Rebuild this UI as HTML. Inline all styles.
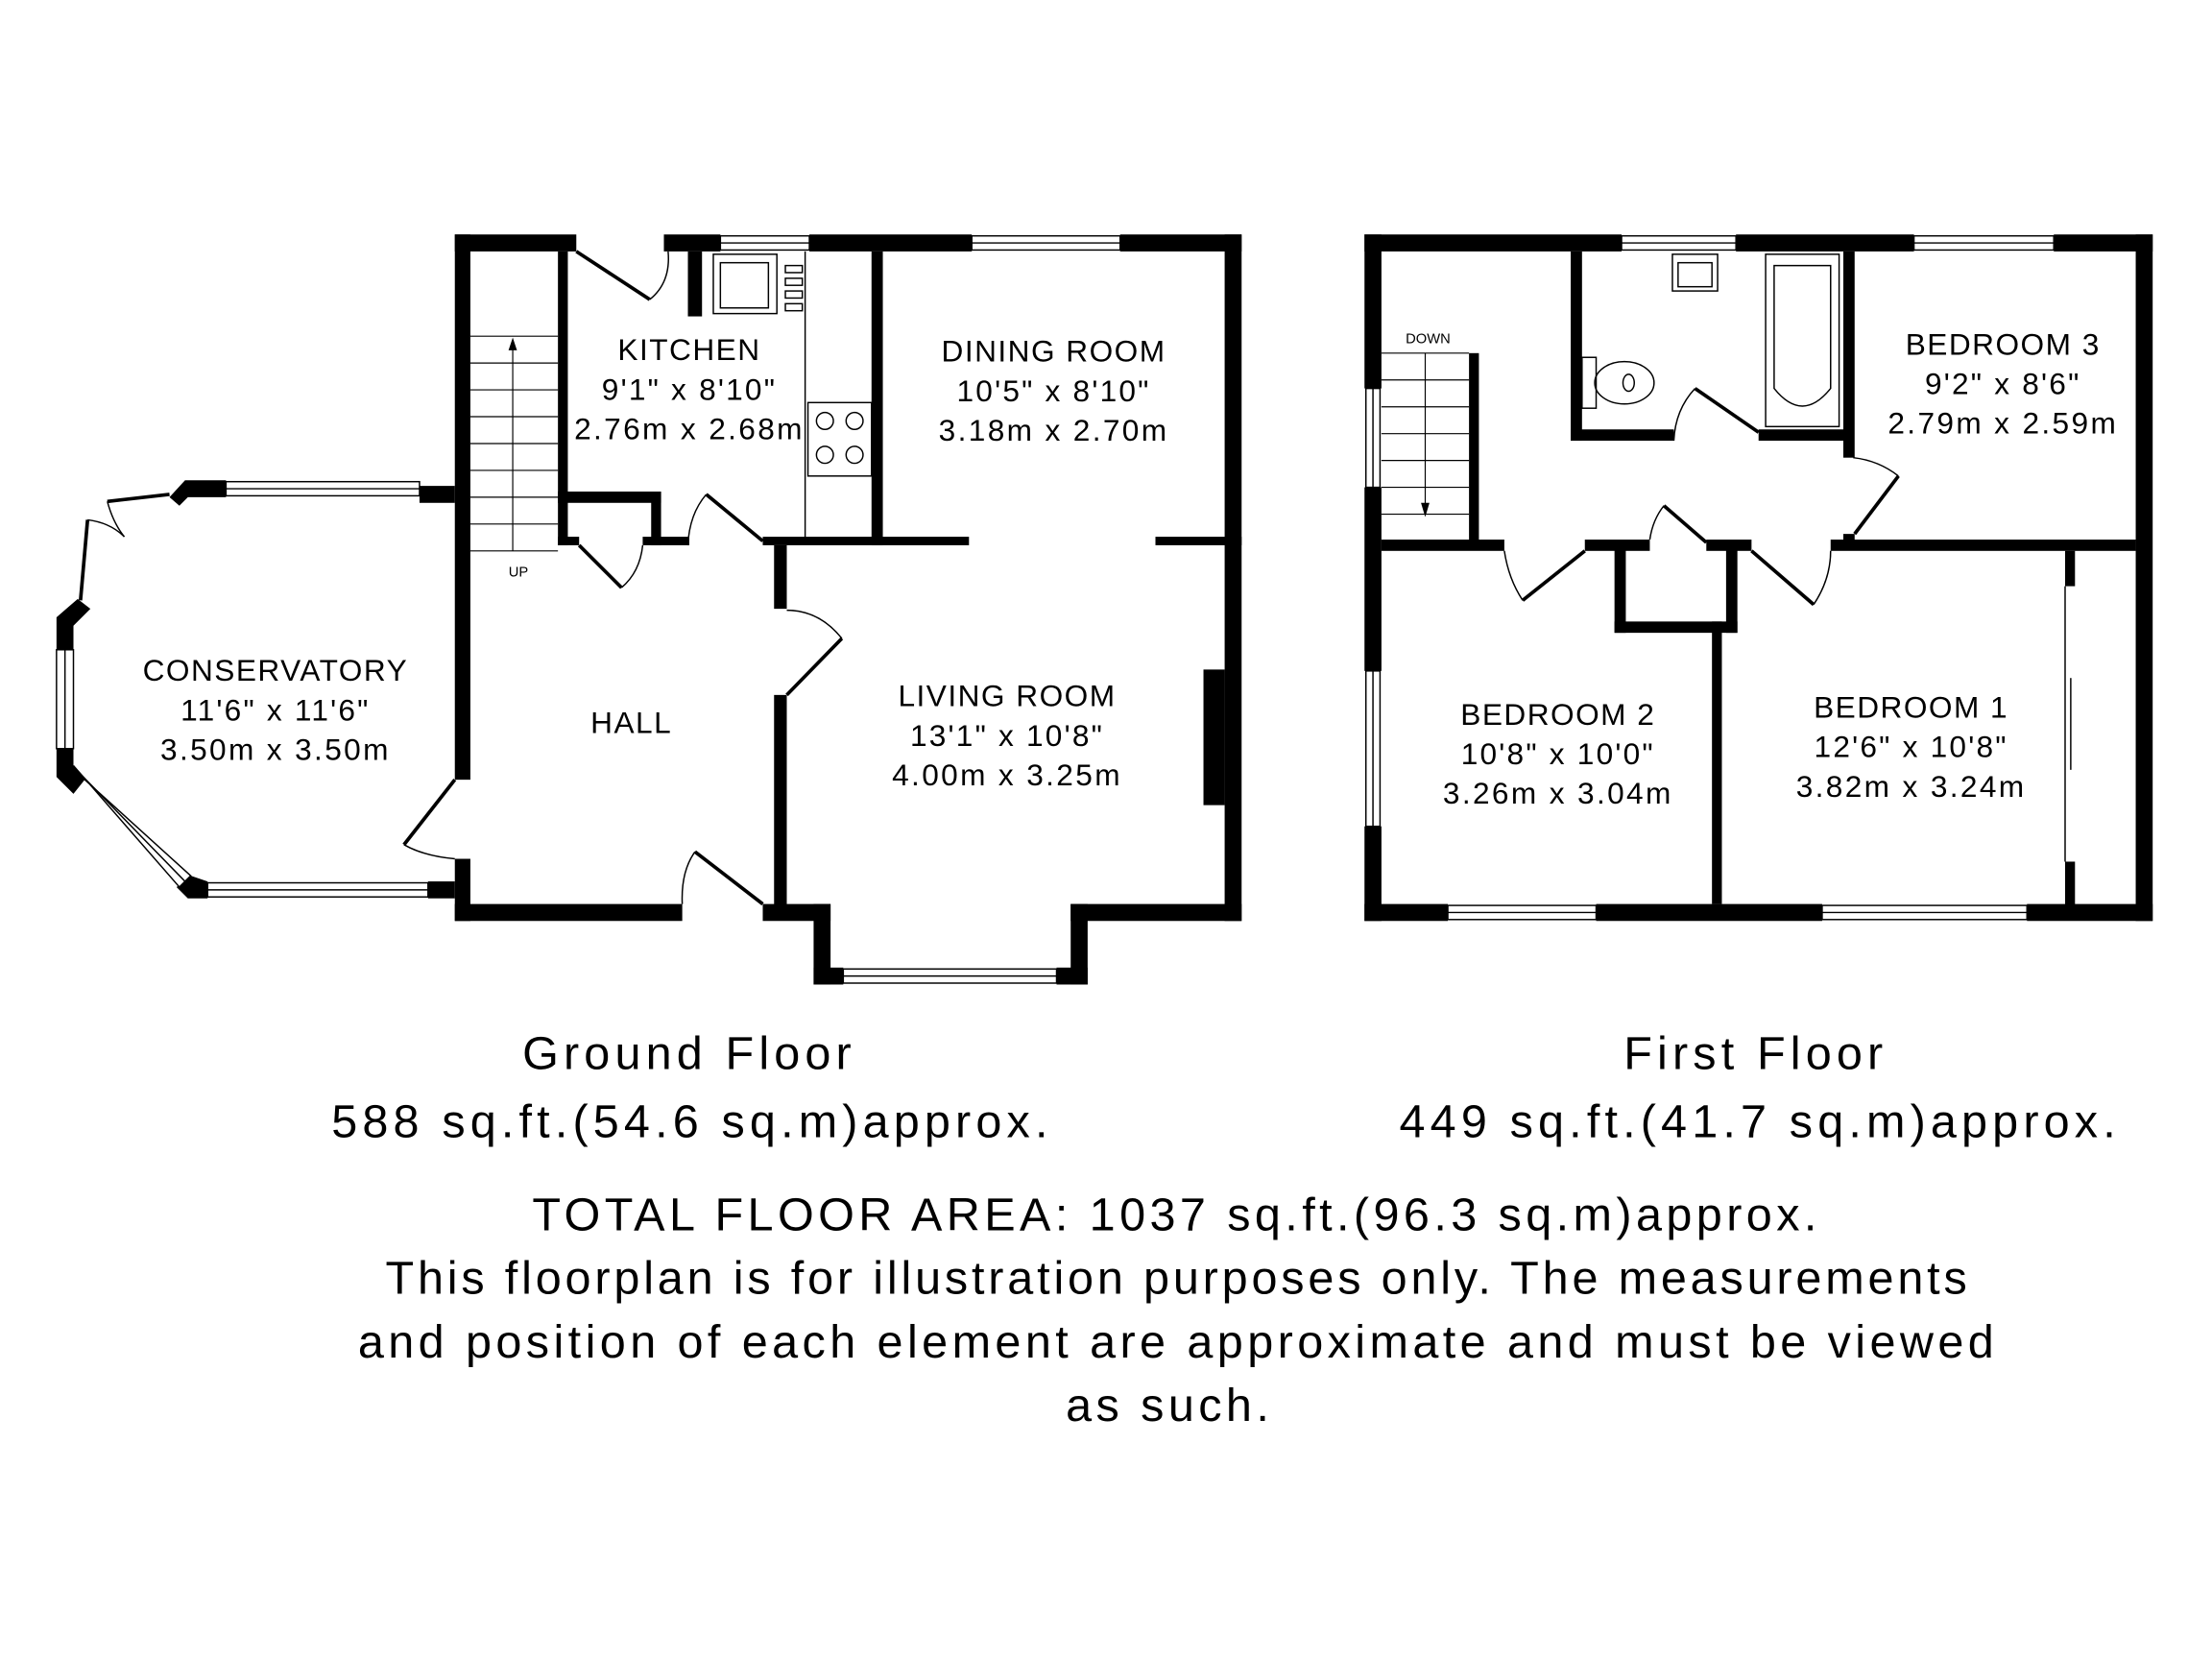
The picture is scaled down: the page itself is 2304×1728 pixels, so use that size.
<!DOCTYPE html>
<html><head><meta charset="utf-8"><style>
html,body{margin:0;padding:0;background:#fff;}
svg{display:block;}
text{font-family:"Liberation Sans",sans-serif;fill:#000;}
</style></head><body>
<svg width="2304" height="1728" viewBox="0 0 1566 1174.5" preserveAspectRatio="none" xmlns="http://www.w3.org/2000/svg">
<rect width="1566" height="1175" fill="#fff"/>
<g fill="#000">
<rect x="322" y="166" width="86" height="12"/>
<rect x="470" y="166" width="40" height="12"/>
<rect x="573" y="166" width="115" height="12"/>
<rect x="793" y="166" width="86" height="12"/>
<rect x="867" y="166" width="12" height="486"/>
<rect x="322" y="166" width="11" height="386"/>
<rect x="322" y="608" width="11" height="44"/>
<rect x="322" y="640" width="161" height="12"/>
<rect x="540" y="640" width="48" height="12"/>
<rect x="576" y="640" width="12" height="57"/>
<rect x="576" y="685" width="21" height="12"/>
<rect x="748" y="685" width="22" height="12"/>
<rect x="758" y="640" width="12" height="57"/>
<rect x="758" y="640" width="121" height="12"/>
<rect x="297" y="344" width="25" height="12"/>
<rect x="303" y="624" width="19" height="12"/>
<polygon points="131,340 160,340 160,352 133,352 127,358 120,352"/>
<polygon points="40,437 55,424 64,431 52,443 52,460 40,460"/>
<polygon points="40,530 52,530 52,542 60,552 52,562 40,550"/>
<polygon points="125,628 135,620 147,624 147,636 133,636"/>
<rect x="395" y="178" width="7" height="208"/>
<rect x="487" y="178" width="10" height="46"/>
<rect x="617" y="178" width="8" height="208"/>
<rect x="395" y="348" width="73" height="8"/>
<rect x="461" y="348" width="7" height="38"/>
<rect x="395" y="380" width="15" height="6"/>
<rect x="455" y="380" width="33" height="6"/>
<rect x="540" y="380" width="146" height="6"/>
<rect x="818" y="380" width="61" height="6"/>
<rect x="548" y="386" width="9" height="45"/>
<rect x="548" y="492" width="9" height="150"/>
<rect x="852" y="474" width="15" height="96"/>
<rect x="966" y="166" width="182" height="12"/>
<rect x="1229" y="166" width="126" height="12"/>
<rect x="1454" y="166" width="70" height="12"/>
<rect x="1512" y="166" width="12" height="486"/>
<rect x="966" y="166" width="12" height="109"/>
<rect x="966" y="345" width="12" height="130"/>
<rect x="966" y="585" width="12" height="67"/>
<rect x="966" y="640" width="59" height="12"/>
<rect x="1130" y="640" width="160" height="12"/>
<rect x="1435" y="640" width="89" height="12"/>
<rect x="1112" y="178" width="8" height="134"/>
<rect x="1112" y="304" width="73" height="8"/>
<rect x="1245" y="304" width="67" height="8"/>
<rect x="1305" y="178" width="8" height="146"/>
<rect x="1305" y="378" width="8" height="8"/>
<rect x="1040" y="250" width="7" height="136"/>
<rect x="978" y="382" width="87" height="8"/>
<rect x="1122" y="382" width="46" height="8"/>
<rect x="1208" y="382" width="32" height="8"/>
<rect x="1296" y="382" width="216" height="8"/>
<rect x="1143" y="386" width="8" height="62"/>
<rect x="1222" y="386" width="8" height="62"/>
<rect x="1143" y="440" width="87" height="8"/>
<rect x="1212" y="440" width="7" height="200"/>
<rect x="1462" y="390" width="7" height="25"/>
<rect x="1462" y="610" width="7" height="32"/>
</g>
<g fill="none" stroke="#000" stroke-width="1">
<rect x="510" y="167" width="63" height="10"/><line x1="510" y1="172" x2="573" y2="172"/>
<rect x="688" y="167" width="105" height="10"/><line x1="688" y1="172" x2="793" y2="172"/>
<rect x="597" y="686" width="151" height="10"/><line x1="597" y1="691" x2="748" y2="691"/>
<rect x="160" y="341" width="137" height="10"/><line x1="160" y1="346" x2="297" y2="346"/>
<rect x="147" y="625" width="156" height="10"/><line x1="147" y1="630" x2="303" y2="630"/>
<rect x="40" y="460" width="12" height="70"/><line x1="46" y1="460" x2="46" y2="530"/>
<polygon points="52,542 60,552 135,620 127,628" fill="#fff"/>
<line x1="56" y1="547" x2="131" y2="624"/>
<rect x="1148" y="167" width="81" height="10"/><line x1="1148" y1="172" x2="1229" y2="172"/>
<rect x="1355" y="167" width="99" height="10"/><line x1="1355" y1="172" x2="1454" y2="172"/>
<rect x="967" y="275" width="10" height="70"/><line x1="972" y1="275" x2="972" y2="345"/>
<rect x="967" y="475" width="10" height="110"/><line x1="972" y1="475" x2="972" y2="585"/>
<rect x="1025" y="641" width="105" height="10"/><line x1="1025" y1="646" x2="1130" y2="646"/>
<rect x="1290" y="641" width="145" height="10"/><line x1="1290" y1="646" x2="1435" y2="646"/>
<line x1="1462" y1="415" x2="1462" y2="610"/><line x1="1466" y1="480" x2="1466" y2="545"/>
<g stroke-width="0.8">
<line x1="333" y1="238" x2="395" y2="238"/><line x1="333" y1="257" x2="395" y2="257"/>
<line x1="333" y1="276" x2="395" y2="276"/><line x1="333" y1="295" x2="395" y2="295"/>
<line x1="333" y1="314" x2="395" y2="314"/><line x1="333" y1="333" x2="395" y2="333"/>
<line x1="333" y1="352" x2="395" y2="352"/><line x1="333" y1="371" x2="395" y2="371"/>
<line x1="333" y1="390" x2="395" y2="390"/>
<line x1="363" y1="245" x2="363" y2="390"/>
</g>
<g stroke-width="0.8">
<line x1="978" y1="250" x2="1040" y2="250"/><line x1="978" y1="269" x2="1040" y2="269"/>
<line x1="978" y1="288" x2="1040" y2="288"/><line x1="978" y1="307" x2="1040" y2="307"/>
<line x1="978" y1="326" x2="1040" y2="326"/><line x1="978" y1="345" x2="1040" y2="345"/>
<line x1="978" y1="364" x2="1040" y2="364"/>
<line x1="1009" y1="250" x2="1009" y2="358"/>
</g>
<line x1="570" y1="178" x2="570" y2="384"/>
<rect x="572" y="285" width="45" height="52"/>
<circle cx="584" cy="298" r="6"/><circle cx="605" cy="298" r="6"/>
<circle cx="584" cy="322" r="6"/><circle cx="605" cy="322" r="6"/>
<rect x="505" y="180" width="45" height="42"/><rect x="510" y="186" width="34" height="32"/>
<rect x="556" y="188" width="12" height="5"/><rect x="556" y="197" width="12" height="5"/><rect x="556" y="206" width="12" height="5"/><rect x="556" y="215" width="12" height="5"/>
<rect x="1184" y="180" width="32" height="26"/><rect x="1188" y="186" width="24" height="17"/>
<rect x="1250" y="180" width="52" height="122"/>
<path d="M1256 188 L1296 188 L1296 275 Q1276 300 1256 275 Z"/>
<rect x="1120" y="253" width="10" height="36"/>
<ellipse cx="1150" cy="271" rx="21" ry="15"/><ellipse cx="1153" cy="271" rx="4" ry="6"/>
<path d="M473 178 Q475 200 460 212"/>
<path d="M455 386 Q453 405 440 416"/>
<path d="M487 386 Q488 364 500 350"/>
<path d="M557 432 Q580 432 596 452"/>
<path d="M322 608 Q300 606 286 598"/>
<path d="M483 640 Q482 617 492 603"/>
<path d="M76 355 Q80 370 88 380"/>
<path d="M62 368 Q78 370 88 380"/>
<path d="M1185 312 Q1186 290 1200 275"/>
<path d="M1312 324 Q1330 326 1344 337"/>
<path d="M1065 390 Q1068 410 1078 425"/>
<path d="M1168 382 Q1170 368 1178 358"/>
<path d="M1296 390 Q1296 410 1284 428"/>
</g>
<g fill="none" stroke="#000" stroke-width="2.5">
<line x1="408" y1="178" x2="460" y2="212"/>
<line x1="410" y1="386" x2="440" y2="416"/>
<line x1="500" y1="350" x2="540" y2="383"/>
<line x1="596" y1="452" x2="557" y2="492"/>
<line x1="322" y1="552" x2="286" y2="598"/>
<line x1="492" y1="603" x2="540" y2="640"/>
<line x1="120" y1="350" x2="76" y2="355"/>
<line x1="62" y1="368" x2="57" y2="425"/>
<line x1="1200" y1="275" x2="1245" y2="306"/>
<line x1="1344" y1="337" x2="1313" y2="378"/>
<line x1="1122" y1="390" x2="1078" y2="425"/>
<line x1="1178" y1="358" x2="1208" y2="384"/>
<line x1="1240" y1="390" x2="1284" y2="428"/>
</g>
<polygon points="363,239 360,248 366,248" fill="#000"/>
<polygon points="1009,366 1006,356 1012,356" fill="#000"/>
<g font-size="21.5" text-anchor="middle" letter-spacing="1">
<text x="488" y="255">KITCHEN</text>
<text x="488" y="283" letter-spacing="1.5">9'1" x 8'10"</text>
<text x="488" y="311" letter-spacing="1.6">2.76m x 2.68m</text>
<text x="746" y="256">DINING ROOM</text>
<text x="746" y="284" letter-spacing="1.5">10'5" x 8'10"</text>
<text x="746" y="312" letter-spacing="1.6">3.18m x 2.70m</text>
<text x="195" y="482">CONSERVATORY</text>
<text x="195" y="510" letter-spacing="1.5">11'6" x 11'6"</text>
<text x="195" y="538" letter-spacing="1.6">3.50m x 3.50m</text>
<text x="447" y="519">HALL</text>
<text x="713" y="500">LIVING ROOM</text>
<text x="713" y="528" letter-spacing="1.5">13'1" x 10'8"</text>
<text x="713" y="556" letter-spacing="1.6">4.00m x 3.25m</text>
<text x="1418" y="251">BEDROOM 3</text>
<text x="1418" y="279" letter-spacing="1.5">9'2" x 8'6"</text>
<text x="1418" y="307" letter-spacing="1.6">2.79m x 2.59m</text>
<text x="1103" y="513">BEDROOM 2</text>
<text x="1103" y="541" letter-spacing="1.5">10'8" x 10'0"</text>
<text x="1103" y="569" letter-spacing="1.6">3.26m x 3.04m</text>
<text x="1353" y="508">BEDROOM 1</text>
<text x="1353" y="536" letter-spacing="1.5">12'6" x 10'8"</text>
<text x="1353" y="564" letter-spacing="1.6">3.82m x 3.24m</text>
</g>
<text x="367" y="408" font-size="10" text-anchor="middle">UP</text>
<text x="1011" y="243" font-size="10" text-anchor="middle">DOWN</text>
<g font-size="33" text-anchor="middle">
<text x="488" y="757" letter-spacing="3.5">Ground Floor</text>
<text x="490" y="805" letter-spacing="3.5">588 sq.ft.(54.6 sq.m)approx.</text>
<text x="1243" y="757" letter-spacing="3.5">First Floor</text>
<text x="1246" y="805" letter-spacing="3.5">449 sq.ft.(41.7 sq.m)approx.</text>
<text x="833" y="871" letter-spacing="3">TOTAL FLOOR AREA: 1037 sq.ft.(96.3 sq.m)approx.</text>
<text x="834" y="916" letter-spacing="2.6">This floorplan is for illustration purposes only. The measurements</text>
<text x="834" y="961" letter-spacing="3">and position of each element are approximate and must be viewed</text>
<text x="828" y="1006" letter-spacing="3">as such.</text>
</g>
</svg>
</body></html>
